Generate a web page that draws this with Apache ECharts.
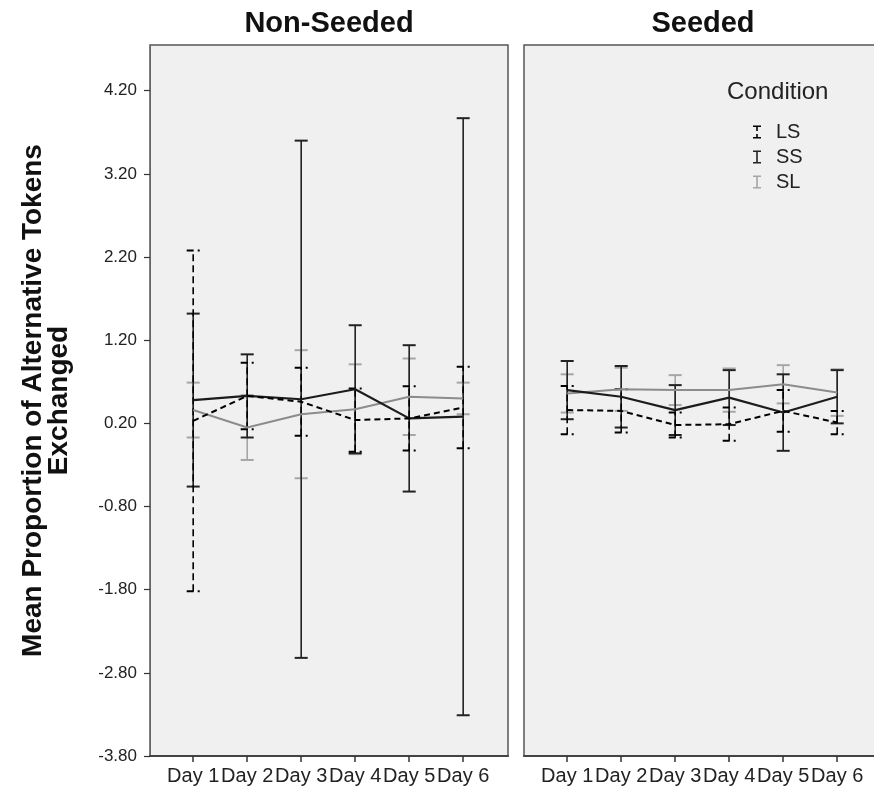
<!DOCTYPE html>
<html>
<head>
<meta charset="utf-8">
<script src="https://cdn.jsdelivr.net/npm/echarts@6/dist/echarts.min.js"></script>
<style>
html,body{margin:0;padding:0;background:#fff;}
#chart{width:874px;height:798px;}
</style>
</head>
<body>
<div id="chart"></div>
<script>
// ---- data ----
const days = ['Day 1', 'Day 2', 'Day 3', 'Day 4', 'Day 5', 'Day 6'];
const dayX = [1, 2, 3, 4, 5, 6];
const yTicks = [-3.80, -2.80, -1.80, -0.80, 0.20, 1.20, 2.20, 3.20, 4.20];
const panels = ['Non-Seeded', 'Seeded'];
const conditions = ['LS', 'SS', 'SL'];

// Non-Seeded: means and error half-widths
const nsLSMean = [0.23, 0.53, 0.46, 0.24, 0.26, 0.39];
const nsLSErr  = [2.05, 0.40, 0.41, 0.38, 0.385, 0.49];
const nsSSMean = [0.48, 0.53, 0.49, 0.61, 0.26, 0.28];
const nsSSErr  = [1.04, 0.50, 3.11, 0.77, 0.88, 3.59];
const nsSLMean = [0.36, 0.15, 0.31, 0.37, 0.52, 0.50];
const nsSLErr  = [0.33, 0.39, 0.77, 0.54, 0.46, 0.19];

// Seeded
const sLSMean = [0.36, 0.35, 0.18, 0.19, 0.35, 0.21];
const sLSErr  = [0.29, 0.26, 0.15, 0.20, 0.25, 0.14];
const sSSMean = [0.60, 0.52, 0.36, 0.51, 0.33, 0.52];
const sSSErr  = [0.35, 0.37, 0.30, 0.33, 0.46, 0.32];
const sSLMean = [0.56, 0.61, 0.60, 0.60, 0.67, 0.57];
const sSLErr  = [0.23, 0.26, 0.18, 0.26, 0.23, 0.28];

// ---- styles ----
const style = {
  LS: { line: '#000000', bar: '#000000', dash: [6, 4], barDash: [7, 4], width: 2 },
  SS: { line: '#1c1c1c', bar: '#222222', dash: null, barDash: null, width: 2.2 },
  SL: { line: '#8c8c8c', bar: '#a6a6a6', dash: null, barDash: null, width: 2 }
};

const panelData = [
  { LS: [nsLSMean, nsLSErr], SS: [nsSSMean, nsSSErr], SL: [nsSLMean, nsSLErr] },
  { LS: [sLSMean, sLSErr], SS: [sSSMean, sSSErr], SL: [sSLMean, sSLErr] }
];

function errRender(color, dash) {
  return function (params, api) {
    const x = api.value(0), m = api.value(1), e = api.value(2);
    const lo = api.coord([x, m - e]);
    const hi = api.coord([x, m + e]);
    const cw = 6.5;
    const st = { stroke: color, lineWidth: 1.6, lineDash: dash || null, fill: null };
    const stCap = { stroke: color, lineWidth: 2, lineDash: dash || null, fill: null };
    return {
      type: 'group',
      children: [
        { type: 'line', shape: { x1: lo[0], y1: lo[1], x2: hi[0], y2: hi[1] }, style: st },
        { type: 'line', shape: { x1: hi[0] - cw, y1: hi[1], x2: hi[0] + cw, y2: hi[1] }, style: stCap },
        { type: 'line', shape: { x1: lo[0] - cw, y1: lo[1], x2: lo[0] + cw, y2: lo[1] }, style: stCap }
      ]
    };
  };
}

const series = [];
const drawOrder = ['SL', 'SS', 'LS'];
panelData.forEach((pd, pi) => {
  drawOrder.forEach(c => {
    const [means, errs] = pd[c];
    const s = style[c];
    series.push({
      name: c,
      type: 'custom',
      xAxisIndex: pi, yAxisIndex: pi,
      itemStyle: { color: s.bar },
      encode: { x: 0, y: 1 },
      renderItem: errRender(s.bar, s.barDash),
      data: dayX.map((x, i) => [x, means[i], errs[i]]),
      z: 2
    });
  });
  drawOrder.forEach(c => {
    const [means] = pd[c];
    const s = style[c];
    series.push({
      name: c,
      type: 'line',
      xAxisIndex: pi, yAxisIndex: pi,
      symbol: 'none',
      itemStyle: { color: s.line },
      lineStyle: { color: s.line, width: s.width, type: s.dash || 'solid' },
      data: dayX.map((x, i) => [x, means[i]]),
      z: 3
    });
  });
});

const iconSolid = 'path://M0,0H8V1.6H4.8V11.4H8V13H0V11.4H3.2V1.6H0Z';
const iconDash = 'path://M0,0H8V1.6H4.8V5.5H3.2V1.6H0Z M3.2,8.5H4.8V11.4H8V13H0V11.4H3.2Z';

const grids = [
  { left: 150, top: 45, width: 358, height: 711 },
  { left: 524, top: 45, width: 358, height: 711 }
].map(g => Object.assign(g, {
  show: true, backgroundColor: '#f0f0f0', borderColor: '#555', borderWidth: 1.5,
  containLabel: false, outerBoundsMode: 'none'
}));

const font = 'Liberation Sans, Arial, sans-serif';

const xAxes = grids.map((g, i) => ({
  type: 'value', gridIndex: i, min: 0.2, max: 6.83,
  axisLine: { show: true, onZero: false, lineStyle: { color: '#444', width: 2 } },
  axisTick: { show: true, length: 6, inside: false, customValues: dayX, lineStyle: { color: '#333', width: 1.5 } },
  axisLabel: {
    show: true, customValues: dayX, margin: 10, fontSize: 20, color: '#222',
    fontFamily: font,
    formatter: v => days[Math.round(v) - 1] || ''
  },
  splitLine: { show: false }
}));

const yAxes = [
  {
    type: 'value', gridIndex: 0, min: -3.8, max: 4.75,
    name: 'Mean Proportion of Alternative Tokens\nExchanged',
    nameLocation: 'middle', nameGap: 78,
    nameTextStyle: { fontSize: 28, fontWeight: 'bold', color: '#111', lineHeight: 26, fontFamily: font },
    axisLine: { show: true, onZero: false, lineStyle: { color: '#666', width: 1 } },
    axisTick: { show: true, length: 6, customValues: yTicks, lineStyle: { color: '#333', width: 1.2 } },
    axisLabel: {
      show: true, customValues: yTicks, margin: 13, fontSize: 17, color: '#222',
      fontFamily: font,
      formatter: v => v.toFixed(2)
    },
    splitLine: { show: false }
  },
  {
    type: 'value', gridIndex: 1, min: -3.8, max: 4.75,
    axisLine: { show: false }, axisTick: { show: false }, axisLabel: { show: false },
    splitLine: { show: false }
  }
];

const option = {
  backgroundColor: '#ffffff',
  animation: false,
  title: [
    { text: panels[0], left: 329, top: 9, padding: 0, textAlign: 'center',
      textStyle: { fontSize: 29, fontWeight: 'bold', color: '#111', fontFamily: font } },
    { text: panels[1], left: 703, top: 9, padding: 0, textAlign: 'center',
      textStyle: { fontSize: 29, fontWeight: 'bold', color: '#111', fontFamily: font } },
    { text: 'Condition', left: 727, top: 80, padding: 0,
      textStyle: { fontSize: 24, fontWeight: 'normal', color: '#222', fontFamily: font } }
  ],
  legend: {
    orient: 'vertical', left: 753, top: 122, padding: 0, selectedMode: false,
    itemWidth: 8, itemHeight: 14, itemGap: 5,
    textStyle: { fontSize: 20, color: '#222', fontFamily: font, padding: [0, 0, 0, 10] },
    data: [
      { name: conditions[0], icon: iconDash, itemStyle: { color: '#000' } },
      { name: conditions[1], icon: iconSolid, itemStyle: { color: '#222' } },
      { name: conditions[2], icon: iconSolid, itemStyle: { color: '#a6a6a6' } }
    ]
  },
  grid: grids,
  xAxis: xAxes,
  yAxis: yAxes,
  series: series
};

const chart = echarts.init(document.getElementById('chart'), null, { renderer: 'canvas' });
chart.setOption(option);
</script>
</body>
</html>
